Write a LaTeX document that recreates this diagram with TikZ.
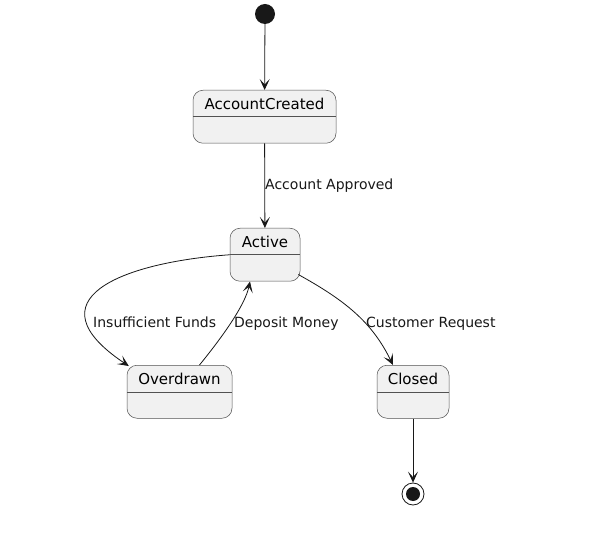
\documentclass[tikz,border=0pt]{standalone}
\usepackage{fontspec}
\setmainfont{DejaVu Sans}
\usetikzlibrary{arrows.meta}
\usepackage{xcolor}
\definecolor{statefill}{HTML}{F1F1F1}
\definecolor{umlline}{HTML}{181818}

\begin{document}
\begin{tikzpicture}[x=1pt,y=-1pt,
 state/.style={draw=umlline!75, line width=0.5pt, fill=statefill, rounded corners=10pt, anchor=north,
   minimum height=53pt, inner xsep=10pt, inner ysep=7.5pt, text height=11pt, text depth=26pt,
   font=\fontsize{15}{18}\selectfont,
   path picture={\draw[umlline!75, line width=0.5pt] ([yshift=-26.5pt]path picture bounding box.north west) -- ([yshift=-26.5pt]path picture bounding box.north east);}},
 trans/.style={draw=umlline, line width=0.8pt, -{Stealth[length=11pt,width=10pt,inset=5.5pt]}},
 lbl/.style={anchor=base west, inner sep=0pt, text=umlline, font=\fontsize{14}{17}\selectfont}]
\useasboundingbox[fill=white] (0,0) rectangle (616,540);
\node[circle, fill=umlline, minimum size=20pt, inner sep=0pt] (start) at (265,14) {};
\node[state, minimum width=143pt] (created) at (264.5,90) {AccountCreated};
\node[state, minimum width=70pt] (active) at (265,228) {Active};
\node[state, minimum width=105pt] (overdrawn) at (179.5,365) {Overdrawn};
\node[state, minimum width=72pt] (closed) at (413,365) {Closed};
\node[circle, draw=umlline, line width=0.8pt, fill=white, minimum size=22pt, inner sep=0pt,
  path picture={\fill[umlline] (path picture bounding box.center) circle (7pt);}] (stop) at (413,494) {};
\draw[trans] (start) -- (created);
\draw[trans] (created) -- (active);
\draw[trans] (active.west) .. controls +(-110,8) and +(-99,-66) .. ([xshift=2pt,yshift=-1pt]overdrawn.north west);
\draw[trans] ([xshift=20pt]overdrawn.north) .. controls +(22,-27) and +(-5,24) .. ([xshift=-15pt]active.south);
\draw[trans] ([xshift=-2pt,yshift=7pt]active.south east) .. controls +(47,26) and +(-21,-43) .. ([xshift=-20pt]closed.north);
\draw[trans] (closed) -- (stop);
\node[lbl] (approved) at (265,190) {Account Approved};
\node[lbl] (funds) at (93,327) {Insufficient Funds};
\node[lbl] (deposit) at (234,327) {Deposit Money};
\node[lbl] (request) at (366,327) {Customer Request};
\end{tikzpicture}
\end{document}
